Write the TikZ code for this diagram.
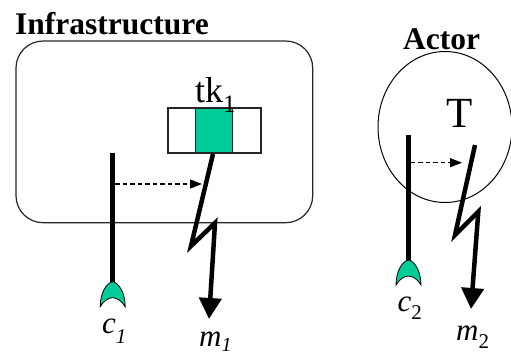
\documentclass[tikz,border=0pt]{standalone}
\usepackage{fontspec}
\setmainfont{Liberation Serif}
\usetikzlibrary{arrows.meta}
\definecolor{tokgreen}{RGB}{0,204,153}
\begin{document}
\begin{tikzpicture}[x=1pt,y=-1pt,
  thickline/.style={line width=4.5pt},
  bolt/.style={line width=4.5pt, line join=miter, -{Triangle[length=21pt,width=22pt]}},
  signal/.style={line width=1.3pt, dash pattern=on 4.5pt off 3pt, -{Triangle[length=12pt,width=9pt]}},
  cup/.style={fill=tokgreen, draw=black, line width=0.8pt},
  frame/.style={draw=black!85, line width=1.2pt},
  title/.style={font=\bfseries\fontsize{31.5}{32}\selectfont, inner sep=0pt, anchor=base west},
  lbl/.style={font=\fontsize{31}{32}\selectfont, inner sep=0pt, anchor=base west},
  socket/.pic={\path[cup] (-12.5,25) .. controls (-12.5,11) and (-6,1) .. (0,0)
     .. controls (6,1) and (12.5,11) .. (12.5,25)
     .. controls (9,19) and (4,16) .. (0,16)
     .. controls (-4,16) and (-9,19) .. (-12.5,25) -- cycle;}
]
\useasboundingbox (0,0) rectangle (511,354);

% titles
\node[title] (tinf) at (15,34) {Infrastructure};
\node[title] (tact) at (403,49.3) {Actor};

% infrastructure frame
\draw[frame, rounded corners=27pt] (16,41) rectangle (312.7,222.7);

% token
\node[draw=black!85, line width=1.2pt, minimum width=93pt, minimum height=45pt, inner sep=0pt] (tok) at (214.5,130.5) {};
\node[fill=tokgreen, draw=black!85, line width=1.2pt, minimum width=36.6pt, minimum height=45pt, inner sep=0pt] (tokg) at (214,130.5) {};
\node[lbl, font=\fontsize{36}{36}\selectfont] (tk) at (195,102) {tk\raisebox{-10pt}{\fontsize{25}{25}\selectfont 1}};

% actor
\draw[line width=1pt] (445,127) ellipse [x radius=67, y radius=75.5];
\node[lbl, font=\fontsize{43}{44}\selectfont] (T) at (446,127.7) {T};

% c1 port
\coordinate (c1t) at (112.7,153);
\coordinate (c1b) at (112.7,283);
\draw[thickline] (c1t) -- (c1b);
\pic at (112.7,281.7) {socket};
\node[lbl] (c1) at (102,333) {\itshape c\raisebox{-10pt}{\fontsize{21}{21}\selectfont 1}};

% m1 bolt
\coordinate (m1a) at (213,154);
\coordinate (m1b) at (191,246);
\coordinate (m1c) at (215,223);
\coordinate (m1d) at (209,319);
\draw[bolt] (m1a) -- (m1b) -- (m1c) -- (m1d);
\node[lbl] (m1) at (199,346) {\itshape m\raisebox{-5pt}{\fontsize{20}{20}\selectfont 1}};

% dashed signal 1
\coordinate (d1s) at (115,184);
\coordinate (d1e) at (202,184);
\draw[signal] (d1s) -- (d1e);

% c2 port
\coordinate (c2t) at (408.5,135);
\coordinate (c2b) at (408.5,261);
\draw[thickline] (c2t) -- (c2b);
\pic at (408.5,260) {socket};
\node[lbl] (c2) at (397.5,311.7) {\itshape c\raisebox{-7.5pt}{\fontsize{21}{21}\selectfont\upshape 2}};

% m2 bolt
\coordinate (m2a) at (475,145);
\coordinate (m2b) at (455,235);
\coordinate (m2c) at (478.3,211.7);
\coordinate (m2d) at (471,309);
\draw[bolt] (m2a) -- (m2b) -- (m2c) -- (m2d);
\node[lbl] (m2) at (456,340) {\itshape m\raisebox{-8pt}{\fontsize{21}{21}\selectfont\upshape 2}};

% dashed signal 2
\coordinate (d2s) at (410.5,162.7);
\coordinate (d2e) at (462,162.7);
\draw[signal] (d2s) -- (d2e);
\end{tikzpicture}
\end{document}
